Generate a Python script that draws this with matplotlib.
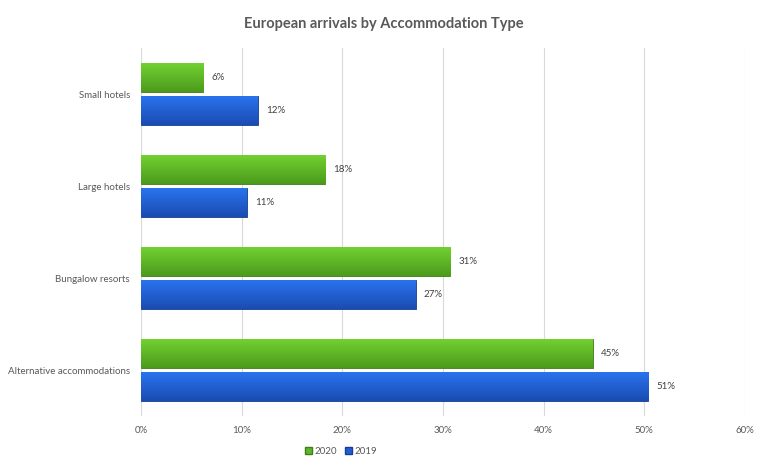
import numpy as np
import matplotlib
matplotlib.use("Agg")
import matplotlib.pyplot as plt
from matplotlib.patches import Patch

# --- Data ---
categories = ["Small hotels", "Large hotels", "Bungalow resorts", "Alternative accommodations"]
values_2020 = [6.2, 18.3, 30.7, 44.9]
values_2019 = [11.6, 10.5, 27.3, 50.4]
labels_2020 = ["6%", "18%", "31%", "45%"]
labels_2019 = ["12%", "11%", "27%", "51%"]
ticks = [0, 10, 20, 30, 40, 50, 60]

plt.rcParams['font.family'] = ['Lato', 'DejaVu Sans']

fig = plt.figure(figsize=(7.68, 4.73), dpi=100)
ax = fig.add_axes([0.1836, 0.1205, 0.7864, 0.778])

y = np.arange(len(categories))
h = 0.315
off = 0.18


def gradient_bars(ax, ypos, widths, top_col, bot_col, edge):
    bars = ax.barh(ypos, widths, height=h, color=bot_col, edgecolor=edge, linewidth=0.6, zorder=3)
    grad = np.linspace(0, 1, 64).reshape(-1, 1)
    top = np.array(matplotlib.colors.to_rgb(top_col))
    bot = np.array(matplotlib.colors.to_rgb(bot_col))
    img = top + (bot - top) * grad[..., None]
    img = np.repeat(img, 2, axis=1)
    for b in bars:
        x0, y0 = b.get_x(), b.get_y()
        im = ax.imshow(img, extent=[x0, x0 + b.get_width(), y0 + b.get_height(), y0],
                       aspect='auto', zorder=3.5, interpolation='bilinear')
        im.set_clip_path(b)
    return bars


b20 = gradient_bars(ax, y - off, values_2020, '#72D131', '#4C9A1C', '#3F7F17')
b19 = gradient_bars(ax, y + off, values_2019, '#2A73EE', '#1A4CB2', '#163F94')

for yy, v, t in zip(y - off, values_2020, labels_2020):
    ax.text(v + 0.8, yy, t, va='center', ha='left', fontsize=7, color='#404040', zorder=5)
for yy, v, t in zip(y + off, values_2019, labels_2019):
    ax.text(v + 0.8, yy, t, va='center', ha='left', fontsize=7, color='#404040', zorder=5)

ax.set_xlim(0, 60)
ax.set_ylim(len(categories) - 0.5, -0.5)
ax.set_xticks(ticks)
ax.set_xticklabels([f"{t}%" for t in ticks])
ax.set_yticks(y)
ax.set_yticklabels(categories)
ax.tick_params(axis='both', length=0, labelsize=7, colors='#595959')
ax.tick_params(axis='x', pad=7)
ax.tick_params(axis='y', pad=8)
ax.grid(axis='x', color='#D9D9D9', linewidth=0.8, zorder=0)
for s in ax.spines.values():
    s.set_visible(False)

fig.suptitle("European arrivals by Accommodation Type", x=0.5, y=0.965,
             fontsize=10.5, fontweight='bold', color='#595959')

handles = [Patch(facecolor='#5CB82A', edgecolor='#3F7F17', label='2020'),
           Patch(facecolor='#1F5FD6', edgecolor='#163F94', label='2019')]
fig.legend(handles=handles, loc='center', bbox_to_anchor=(0.444, 0.045), ncol=2, frameon=False,
           fontsize=7, labelcolor='#595959', handlelength=0.7, handleheight=0.7,
           handletextpad=0.3, columnspacing=0.8)

plt.savefig("out.png", dpi=100)
